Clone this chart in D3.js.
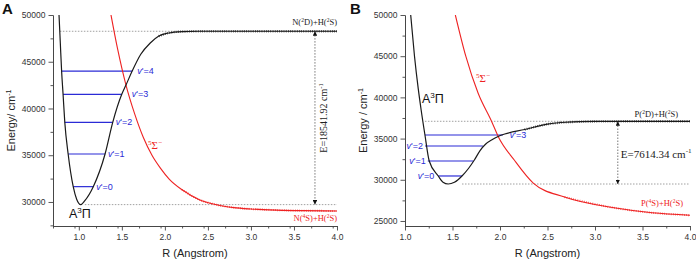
<!DOCTYPE html>
<html>
<head>
<meta charset="utf-8">
<script src="https://cdn.jsdelivr.net/npm/d3@7"></script>
<style>
  body { margin: 0; background: #fff; }
  svg { display: block; }
</style>
</head>
<body>
<div id="app"></div>
<script>
'use strict'

// ---- data (R in Angstrom, E in cm-1) ----
const blackA = [[0.77, 50000], [0.785, 47000], [0.80, 44000], [0.817, 41520], [0.837, 38520],
  [0.876, 35130], [0.935, 31640], [0.975, 30300], [1.022, 29720], [1.07, 30150], [1.168, 31640],
  [1.305, 35130], [1.394, 38520], [1.499, 41520], [1.548, 42510], [1.62, 44000], [1.72, 45800],
  [1.83, 47000], [1.93, 47750], [2.03, 48050], [2.2, 48230], [2.4, 48260], [3.0, 48260], [4.0, 48260]]
const redA = [[1.374, 50000], [1.45, 46400], [1.548, 42510], [1.65, 39400], [1.75, 36900],
  [1.85, 35000], [1.95, 33600], [2.05, 32450], [2.2, 31300], [2.4, 30250], [2.6, 29700],
  [2.8, 29400], [3.0, 29250], [3.3, 29130], [3.6, 29070], [4.0, 29040]]
const levelsA = [31640, 35130, 38520, 41520, 44003]
const levelsLeftA = [0.935, 0.876, 0.837, 0.817, 0.80]
const levelsRightA = [1.168, 1.305, 1.394, 1.499, 1.62]
const asymA = { upper: 48260, lower: 29718, red: 29040 }

const blackB = [[1.06, 50000], [1.10, 45000], [1.14, 41000], [1.17, 38470], [1.21, 35437],
  [1.255, 32282], [1.35, 30461], [1.40, 29700], [1.455, 29486], [1.52, 29700], [1.60, 30461],
  [1.67, 31400], [1.73, 32400], [1.79, 33550], [1.85, 34350], [1.92, 34900], [1.98, 35250],
  [2.05, 35550], [2.26, 36100], [2.5, 36750], [2.7, 36980], [3.0, 37080], [3.5, 37100], [4.0, 37100]]
const redB = [[1.53, 50000], [1.64, 45000], [1.77, 40500], [1.913, 37050], [1.982, 35230],
  [2.15, 32400], [2.35, 29600], [2.68, 27900], [3.2, 26600], [3.6, 26000], [4.0, 25700]]
const levelsB = [30461, 32282, 34102, 35437]
const levelsLeftB = [1.35, 1.24, 1.21, 1.21]
const levelsRightB = [1.60, 1.72, 1.82, 2.03]
const asymB = { upper: 37100, lower: 29486, red: 25700 }

const xTicksA = [1.0, 1.5, 2.0, 2.5, 3.0, 3.5, 4.0]
const yTicksA = [30000, 35000, 40000, 45000, 50000]
const xTicksB = [1.0, 1.5, 2.0, 2.5, 3.0, 3.5, 4.0]
const yTicksB = [25000, 30000, 35000, 40000, 45000, 50000]

const W = 696, H = 260
const serif = 'Liberation Serif, Times New Roman, serif'
const sans = 'Liberation Sans, Arial, sans-serif'
const BLUE = '#2b2bd6'
const RED = '#ee2222'

const svg = d3.select('#app').append('svg')
  .attr('width', W).attr('height', H)
  .attr('font-family', sans)

const defs = svg.append('defs')
defs.append('marker')
  .attr('id', 'arr')
  .attr('viewBox', '0 0 6 6')
  .attr('refX', 6).attr('refY', 3)
  .attr('markerWidth', 4.5).attr('markerHeight', 4.5)
  .attr('markerUnits', 'userSpaceOnUse')
  .attr('orient', 'auto-start-reverse')
  .append('path').attr('d', 'M0,0 L6,3 L0,6 Z').attr('fill', '#111')

// text with superscripts: parts are strings or [string] for superscript
function rich(sel, parts, size) {
  const t = sel.append('text').attr('font-size', size)
  let up = false
  parts.forEach(p => {
    const sup = Array.isArray(p)
    const s = t.append('tspan').text(sup ? p[0] : p)
    if (sup) {
      s.attr('font-size', size * 0.65)
      if (!up) { s.attr('dy', -size * 0.4); up = true }
    } else if (up) {
      s.attr('dy', size * 0.4); up = false
    }
  })
  return t
}

function panel(cfg) {
  const { x, y, id } = cfg
  const g = svg.append('g')
  const [x0, x1] = x.range()
  const [yb, yt] = y.range()

  defs.append('clipPath').attr('id', 'clip' + id)
    .append('rect').attr('x', x0).attr('y', yt).attr('width', x1 - x0).attr('height', yb - yt)

  // axes: minor then major
  const minorX = d3.range(x.domain()[0], x.domain()[1] + 1e-9, 0.25).filter(v => !cfg.xTicks.some(t => Math.abs(t - v) < 1e-6))
  const minorY = d3.range(Math.ceil(y.domain()[0] / 2500) * 2500, y.domain()[1] + 1, 2500).filter(v => v % 5000 !== 0)

  g.append('g').attr('transform', `translate(0,${yb})`)
    .call(d3.axisBottom(x).tickValues(minorX).tickSize(2.5).tickSizeOuter(0).tickFormat(''))
  g.append('g').attr('transform', `translate(${x0},0)`)
    .call(d3.axisLeft(y).tickValues(minorY).tickSize(2.5).tickSizeOuter(0).tickFormat(''))

  g.append('g').attr('transform', `translate(0,${yb})`)
    .call(d3.axisBottom(x).tickValues(cfg.xTicks).tickSize(4.5).tickSizeOuter(0).tickPadding(3).tickFormat(d3.format('.1f')))
  g.append('g').attr('transform', `translate(${x0},0)`)
    .call(d3.axisLeft(y).tickValues(cfg.yTicks).tickSize(4.5).tickSizeOuter(0).tickPadding(3).tickFormat(d3.format('d')))

  g.selectAll('.domain, .tick line').attr('stroke', '#444').attr('stroke-width', 0.9)
  g.selectAll('.tick text').attr('font-family', sans).attr('font-size', 8.5).attr('fill', '#333')

  // dotted asymptote lines
  const dots = g.append('g').attr('stroke', '#888').attr('stroke-width', 0.8).attr('stroke-dasharray', '1.5,1.5')
  dots.append('line').attr('x1', x(cfg.upperFrom)).attr('x2', x1)
    .attr('y1', y(cfg.asym.upper)).attr('y2', y(cfg.asym.upper))
  dots.append('line').attr('x1', x(cfg.lowerFrom)).attr('x2', x1)
    .attr('y1', y(cfg.asym.lower)).attr('y2', y(cfg.asym.lower))

  // vertical dissociation arrow
  g.append('line')
    .attr('x1', x(cfg.arrowR)).attr('x2', x(cfg.arrowR))
    .attr('y1', y(cfg.asym.lower)).attr('y2', y(cfg.asym.upper))
    .attr('stroke', '#555').attr('stroke-width', 0.8).attr('stroke-dasharray', '1.5,1.5')
    .attr('marker-start', 'url(#arr)').attr('marker-end', 'url(#arr)')

  const line = d3.line().x(d => x(d[0])).y(d => y(d[1])).curve(d3.curveMonotoneX)
  const plot = g.append('g').attr('clip-path', `url(#clip${id})`)

  // vibrational levels
  cfg.levels.forEach((e, i) => {
    plot.append('line')
      .attr('x1', x(cfg.levelsLeft[i])).attr('x2', x(cfg.levelsRight[i]))
      .attr('y1', y(e)).attr('y2', y(e))
      .attr('stroke', BLUE).attr('stroke-width', 1.2)
  })

  plot.append('path').datum(cfg.red).attr('d', line)
    .attr('fill', 'none').attr('stroke', RED).attr('stroke-width', 1.1)
  plot.append('path').datum(cfg.red.filter(d => d[0] >= cfg.redTail)).attr('d', line)
    .attr('fill', 'none').attr('stroke', RED).attr('stroke-width', 2).attr('stroke-dasharray', '0.6,1.6')
  plot.append('path').datum(cfg.black).attr('d', line)
    .attr('fill', 'none').attr('stroke', '#1a1a1a').attr('stroke-width', 1.2)
  plot.append('path').datum(cfg.black.filter(d => d[0] >= cfg.blackTail)).attr('d', line)
    .attr('fill', 'none').attr('stroke', '#1a1a1a').attr('stroke-width', 2.4).attr('stroke-dasharray', '0.6,1.6')

  // level labels
  cfg.levels.forEach((e, i) => {
    const left = cfg.labelSide[i] < 0
    const t = g.append('text')
      .attr('x', left ? x(cfg.levelsLeft[i]) + cfg.labelSide[i] : x(cfg.levelsRight[i]) + cfg.labelSide[i])
      .attr('y', y(e)).attr('dy', '0.35em')
      .attr('text-anchor', left ? 'end' : 'start')
      .attr('font-size', 9).attr('fill', BLUE)
    t.append('tspan').attr('font-style', 'italic').text('v')
    t.append('tspan').text(`'=${i}`)
  })

  // axis titles
  g.append('text').attr('x', (x0 + x1) / 2).attr('y', 257)
    .attr('text-anchor', 'middle').attr('font-size', 11).attr('fill', '#222')
    .text('R (Angstrom)')
  rich(g, [cfg.yTitle, ['-1']], 11)
    .attr('text-anchor', 'middle').attr('fill', '#222')
    .attr('transform', `translate(${x0 - 38},${(yb + yt) / 2}) rotate(-90)`)

  // panel letter
  g.append('text').attr('x', cfg.letterX).attr('y', 14)
    .attr('font-size', 15).attr('font-weight', 'bold').attr('fill', '#111')
    .text(cfg.letter)
  return g
}

const xA = d3.scaleLinear().domain([0.7, 4.0]).range([53, 337])
const yA = d3.scaleLinear().domain([27430, 50000]).range([226, 15])
const xB = d3.scaleLinear().domain([1.0, 4.0]).range([405, 690])
const yB = d3.scaleLinear().domain([24390, 50000]).range([226, 15])

const gA = panel({
  id: 'A', x: xA, y: yA, xTicks: xTicksA, yTicks: yTicksA,
  black: blackA, red: redA, levels: levelsA, levelsLeft: levelsLeftA, levelsRight: levelsRightA,
  labelSide: [3, 3, 3, 10, 5], asym: asymA, upperFrom: 0.78, lowerFrom: 1.07, arrowR: 3.744,
  blackTail: 1.9, redTail: 2.2, yTitle: 'Energy/ cm', letter: 'A', letterX: 2
})
const gB = panel({
  id: 'B', x: xB, y: yB, xTicks: xTicksB, yTicks: yTicksB,
  black: blackB, red: redB, levels: levelsB, levelsLeft: levelsLeftB, levelsRight: levelsRightB,
  labelSide: [-4, -2, -2, 7], asym: asymB, upperFrom: 1.21, lowerFrom: 1.6, arrowR: 3.24,
  blackTail: 2.2, redTail: 2.6, yTitle: 'Energy / cm', letter: 'B', letterX: 350
})

// ---- panel A annotations ----
rich(gA, ['N(', ['2'], 'D)+H(', ['2'], 'S)'], 8.5)
  .attr('font-family', serif).attr('fill', '#222').attr('text-anchor', 'end')
  .attr('x', xA(4.0)).attr('y', yA(asymA.upper) - 6)
rich(gA, ['N(', ['4'], 'S)+H(', ['2'], 'S)'], 8.5)
  .attr('font-family', serif).attr('fill', RED).attr('text-anchor', 'end')
  .attr('x', xA(4.0)).attr('y', yA(asymA.red) + 10)
rich(gA, ['E=18541.92 cm', ['-1']], 10)
  .attr('font-family', serif).attr('fill', '#222').attr('text-anchor', 'middle')
  .attr('transform', `translate(${xA(3.744) + 12},${(yA(asymA.upper) + yA(asymA.lower)) / 2}) rotate(-90)`)
rich(gA, [['5'], 'Σ', ['−']], 11)
  .attr('font-family', serif).attr('fill', RED)
  .attr('x', 148).attr('y', 149)
rich(gA, ['A', ['3'], 'Π'], 12.5)
  .attr('fill', '#111').attr('x', 69).attr('y', 218)

// ---- panel B annotations ----
rich(gB, ['P(', ['2'], 'D)+H(', ['2'], 'S)'], 8.5)
  .attr('font-family', serif).attr('fill', '#222').attr('text-anchor', 'end')
  .attr('x', xB(4.0) - 12).attr('y', yB(asymB.upper) - 4)
rich(gB, ['P(', ['4'], 'S)+H(', ['2'], 'S)'], 8.5)
  .attr('font-family', serif).attr('fill', RED).attr('text-anchor', 'end')
  .attr('x', xB(4.0) - 7).attr('y', yB(asymB.red) - 9)
rich(gB, ['E=7614.34 cm', ['-1']], 11)
  .attr('font-family', serif).attr('fill', '#222')
  .attr('x', xB(3.24) + 3).attr('y', (yB(asymB.upper) + yB(asymB.lower)) / 2 + 5)
rich(gB, [['5'], 'Σ', ['−']], 11)
  .attr('font-family', serif).attr('fill', RED)
  .attr('x', 476).attr('y', 82)
rich(gB, ['A', ['3'], 'Π'], 12.5)
  .attr('fill', '#111').attr('x', 422).attr('y', 103)
</script>
</body>
</html>
